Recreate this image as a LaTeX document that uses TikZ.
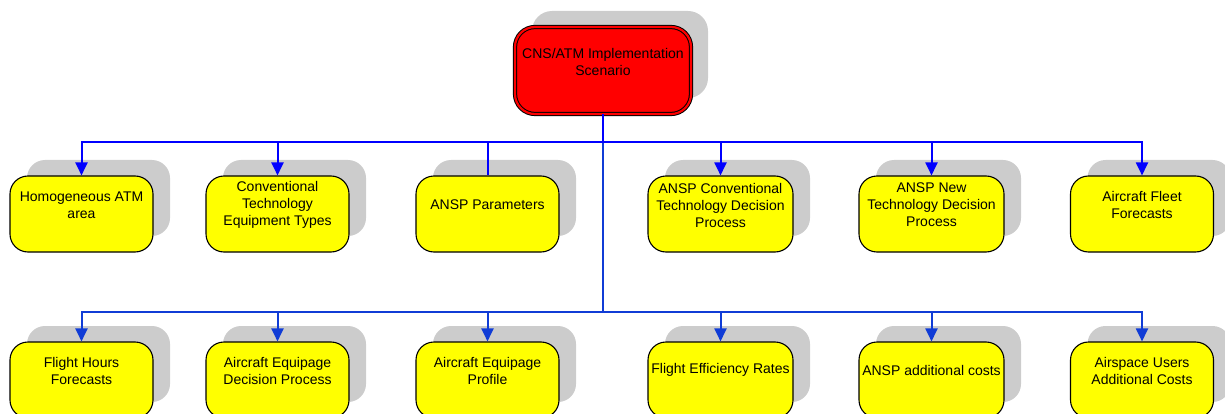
\documentclass[tikz,border=0pt]{standalone}
\usepackage{fontspec}
\setmainfont{Liberation Sans}
\usetikzlibrary{arrows.meta,shadows}
\definecolor{shgray}{RGB}{204,204,204}
\definecolor{boxyellow}{RGB}{255,255,0}
\definecolor{boxred}{RGB}{255,0,0}
\definecolor{topblue}{RGB}{0,0,255}
\definecolor{lowblue}{RGB}{16,60,214}
\begin{document}
\begin{tikzpicture}[x=1pt,y=-1pt,
  box/.style={draw=black, line width=1.1pt, fill=boxyellow, rounded corners=18pt,
    minimum width=143pt, minimum height=76pt, inner sep=0pt,
    general shadow={fill=shgray, shadow xshift=17pt, shadow yshift=16pt}},
  topbox/.style={draw=black, line width=1pt, double=boxred, double distance=2.2pt,
    fill=boxred, rounded corners=20pt, minimum width=176pt, minimum height=87pt, inner sep=0pt,
    general shadow={fill=shgray, shadow xshift=17pt, shadow yshift=16pt}},
  lab/.style={inner sep=0pt, align=center, font=\fontsize{14}{17}\selectfont},
  upconn/.style={draw=topblue, line width=2pt},
  lowconn/.style={draw=lowblue, line width=2pt},
  tip/.style={-{Triangle[length=13pt,width=12pt]}}
]
\useasboundingbox (0,0) rectangle (1225,414);

% top node
\node[topbox] (top) at (603,70.5) {};
\node[lab] (ttop) at (603,61.5) {CNS/ATM Implementation\\Scenario};

% upper row
\node[box] (a1) at (81.5,214) {};
\node[box] (a2) at (277.5,214) {};
\node[box] (a3) at (487.5,214) {};
\node[box,minimum width=145pt] (a4) at (720.5,214) {};
\node[box,minimum width=145pt] (a5) at (931.5,214) {};
\node[box] (a6) at (1142,214) {};
\node[lab] (ta1) at (81.5,205) {Homogeneous ATM\\area};
\node[lab] (ta2) at (277.5,205) {Conventional\\Technology\\Equipment Types};
\node[lab] (ta3) at (487.5,205) {ANSP Parameters};
\node[lab] (ta4) at (720.5,205) {ANSP Conventional\\Technology Decision\\Process};
\node[lab] (ta5) at (931.5,205) {ANSP New\\Technology Decision\\Process};
\node[lab] (ta6) at (1142,205) {Aircraft Fleet\\Forecasts};

% lower row
\node[box] (b1) at (81.5,380) {};
\node[box] (b2) at (277.5,380) {};
\node[box] (b3) at (487.5,380) {};
\node[box,minimum width=145pt] (b4) at (720.5,380) {};
\node[box,minimum width=145pt] (b5) at (931.5,380) {};
\node[box] (b6) at (1142,380) {};
\node[lab] (tb1) at (81.5,370.5) {Flight Hours\\Forecasts};
\node[lab] (tb2) at (277.5,370.5) {Aircraft Equipage\\Decision Process};
\node[lab] (tb3) at (487.5,370.5) {Aircraft Equipage\\Profile};
\node[lab] (tb4) at (720.5,370) {Flight Efficiency Rates};
\node[lab] (tb5) at (931.5,370) {ANSP additional costs};
\node[lab] (tb6) at (1142,370.5) {Airspace Users\\Additional Costs};

% junctions
\coordinate (h1) at (603,142);
\coordinate (h2) at (603,312);

% connectors
\draw[lowconn] (h1) -- (h2);
\draw[upconn] (top.south) -- (h1);
\draw[upconn,tip] (h1) -| (a1.north);
\draw[upconn,tip] (h1) -| (a2.north);
\draw[upconn] (h1) -| (a3.north);
\draw[upconn,tip] (h1) -| (a4.north);
\draw[upconn,tip] (h1) -| (a5.north);
\draw[upconn,tip] (h1) -| (a6.north);
\draw[lowconn,tip] (h2) -| (b1.north);
\draw[lowconn,tip] (h2) -| (b2.north);
\draw[lowconn,tip] (h2) -| (b3.north);
\draw[lowconn,tip] (h2) -| (b4.north);
\draw[lowconn,tip] (h2) -| (b5.north);
\draw[lowconn,tip] (h2) -| (b6.north);
\end{tikzpicture}
\end{document}
